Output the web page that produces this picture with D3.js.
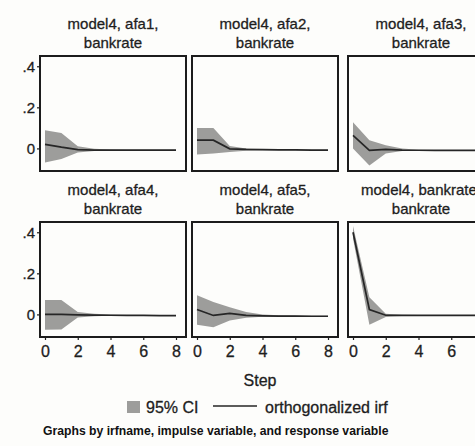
<!DOCTYPE html>
<html>
<head>
<meta charset="utf-8">
<script src="https://cdn.jsdelivr.net/npm/d3@7"></script>
<style>
  html, body { margin: 0; padding: 0; background: #fdfdfb; }
  svg { display: block; font-family: "Liberation Sans", Arial, sans-serif; }
  svg text { stroke: #1e1e1e; stroke-width: 0.3px; }
</style>
</head>
<body>
<svg id="chart" width="475" height="446"></svg>
<script>
// Impulse-response steps
const steps = [0, 1, 2, 3, 4, 5, 6, 7, 8];

// Panel titles (irfname, impulse, response)
const panelTitles = [
  ["model4, afa1,", "bankrate"],
  ["model4, afa2,", "bankrate"],
  ["model4, afa3,", "bankrate"],
  ["model4, afa4,", "bankrate"],
  ["model4, afa5,", "bankrate"],
  ["model4, bankrate,", "bankrate"]
];

// Orthogonalized IRF and 95% CI bounds, per impulse variable
const irfAfa1 = [0.020, 0.006, -0.006, -0.008, -0.008, -0.008, -0.008, -0.008, -0.008];
const hiAfa1  = [0.088, 0.075, 0.010, -0.002, -0.005, -0.006, -0.006, -0.007, -0.007];
const loAfa1  = [-0.068, -0.052, -0.020, -0.013, -0.011, -0.010, -0.010, -0.009, -0.009];

const irfAfa2 = [0.040, 0.040, -0.002, -0.005, -0.006, -0.007, -0.007, -0.008, -0.008];
const hiAfa2  = [0.100, 0.100, 0.012, 0.000, -0.003, -0.004, -0.005, -0.006, -0.006];
const loAfa2  = [-0.030, -0.025, -0.018, -0.011, -0.009, -0.009, -0.009, -0.009, -0.009];

const irfAfa3 = [0.063, -0.010, -0.005, -0.008, -0.009, -0.010, -0.010, -0.010, -0.010];
const hiAfa3  = [0.127, 0.040, 0.015, 0.000, -0.007, -0.008, -0.008, -0.009, -0.009];
const loAfa3  = [0.000, -0.083, -0.025, -0.012, -0.011, -0.011, -0.011, -0.011, -0.011];

const irfAfa4 = [0.000, 0.000, -0.002, -0.003, -0.004, -0.005, -0.005, -0.006, -0.006];
const hiAfa4  = [0.070, 0.070, 0.012, 0.003, -0.001, -0.003, -0.003, -0.004, -0.004];
const loAfa4  = [-0.075, -0.073, -0.015, -0.009, -0.007, -0.007, -0.007, -0.008, -0.008];

const irfAfa5 = [0.024, -0.005, 0.005, -0.005, -0.007, -0.008, -0.008, -0.009, -0.009];
const hiAfa5  = [0.093, 0.060, 0.035, 0.012, 0.000, -0.004, -0.005, -0.006, -0.006];
const loAfa5  = [-0.050, -0.063, -0.030, -0.016, -0.011, -0.011, -0.011, -0.011, -0.011];

const irfBank = [0.400, 0.024, -0.004, -0.005, -0.005, -0.005, -0.005, -0.005, -0.005];
const hiBank  = [0.430, 0.083, 0.003, -0.002, -0.003, -0.003, -0.003, -0.003, -0.003];
const loBank  = [0.370, -0.050, -0.012, -0.008, -0.007, -0.007, -0.007, -0.007, -0.007];

// Axis ticks
const yTickValues = [0, 0.2, 0.4];
const yTickLabels = ["0", ".2", ".4"];
const xTickValues = [0, 2, 4, 6, 8];
const xTickLabels = ["0", "2", "4", "6", "8"];

const legendLabels = ["95% CI", "orthogonalized irf"];
const xAxisTitle = "Step";
const noteText = "Graphs by irfname, impulse variable, and response variable";

const series = [
  { irf: irfAfa1, lo: loAfa1, hi: hiAfa1 },
  { irf: irfAfa2, lo: loAfa2, hi: hiAfa2 },
  { irf: irfAfa3, lo: loAfa3, hi: hiAfa3 },
  { irf: irfAfa4, lo: loAfa4, hi: hiAfa4 },
  { irf: irfAfa5, lo: loAfa5, hi: hiAfa5 },
  { irf: irfBank, lo: loBank, hi: hiBank }
];

// Layout
const colLeft = [40, 192, 348];
const rowTop = [56, 222];
const panelW = 146, panelH = 115;
const bandColor = "#9d9d9b";
const lineColor = "#262626";
const frameColor = "#1c1c1c";
const textColor = "#1e1e1e";

const svg = d3.select("#chart");

const x = d3.scaleLinear().domain([0, 8]).range([5, panelW - 10]);
const y = d3.scaleLinear().domain([-0.11, 0.45]).range([panelH, 0]);

const area = d3.area()
  .x(d => x(d.step))
  .y0(d => y(d.lo))
  .y1(d => y(d.hi));
const line = d3.line()
  .x(d => x(d.step))
  .y(d => y(d.irf));

series.forEach((s, i) => {
  const col = i % 3, row = Math.floor(i / 3);
  const g = svg.append("g")
    .attr("transform", `translate(${colLeft[col]},${rowTop[row]})`);
  const pts = steps.map((st, k) => ({ step: st, irf: s.irf[k], lo: s.lo[k], hi: s.hi[k] }));

  // title
  const cx = panelW / 2;
  g.append("text").attr("x", cx).attr("y", -27)
    .attr("text-anchor", "middle").attr("font-size", 15).attr("fill", textColor)
    .text(panelTitles[i][0]);
  g.append("text").attr("x", cx).attr("y", -8)
    .attr("text-anchor", "middle").attr("font-size", 15).attr("fill", textColor)
    .text(panelTitles[i][1]);

  // confidence band and irf line
  g.append("path").datum(pts).attr("d", area).attr("fill", bandColor);
  g.append("path").datum(pts).attr("d", line)
    .attr("fill", "none").attr("stroke", lineColor).attr("stroke-width", 1.7);

  // frame
  g.append("rect").attr("x", 0).attr("y", 0).attr("width", panelW).attr("height", panelH)
    .attr("fill", "none").attr("stroke", frameColor).attr("stroke-width", 2);

  // y axis on the first column
  if (col === 0) {
    const ya = d3.axisLeft(y).tickValues(yTickValues).tickSize(3)
      .tickFormat((d, k) => yTickLabels[k]);
    const ag = g.append("g").call(ya);
    ag.select(".domain").remove();
    ag.selectAll("line").attr("stroke", frameColor).attr("stroke-width", 1.2);
    ag.selectAll("text").attr("font-size", 15).attr("fill", textColor)
      .attr("font-family", "Liberation Sans, Arial, sans-serif").attr("dx", "1");
  }
  // x axis on the bottom row
  if (row === 1) {
    const xa = d3.axisBottom(x).tickValues(xTickValues).tickSize(3)
      .tickFormat((d, k) => xTickLabels[k]);
    const ag = g.append("g").attr("transform", `translate(0,${panelH})`).call(xa);
    ag.select(".domain").remove();
    ag.selectAll("line").attr("stroke", frameColor).attr("stroke-width", 1.2);
    ag.selectAll("text").attr("font-size", 16).attr("fill", textColor)
      .attr("font-family", "Liberation Sans, Arial, sans-serif").attr("dy", "0.85em");
  }
});

// x axis title
svg.append("text").attr("x", 260).attr("y", 386)
  .attr("text-anchor", "middle").attr("font-size", 16).attr("fill", textColor)
  .text(xAxisTitle);

// legend
const lg = svg.append("g");
lg.append("rect").attr("x", 127).attr("y", 401).attr("width", 13).attr("height", 12)
  .attr("fill", bandColor);
lg.append("text").attr("x", 146).attr("y", 413).attr("font-size", 16).attr("fill", textColor)
  .text(legendLabels[0]);
lg.append("line").attr("x1", 213).attr("x2", 257).attr("y1", 406).attr("y2", 406)
  .attr("stroke", lineColor).attr("stroke-width", 1.6);
lg.append("text").attr("x", 265).attr("y", 413).attr("font-size", 16).attr("fill", textColor)
  .text(legendLabels[1]);

// note
svg.append("text").attr("x", 43).attr("y", 435).attr("font-size", 12.2)
  .attr("font-weight", "bold").attr("fill", "#111").style("stroke-width", "0px")
  .text(noteText);
</script>
</body>
</html>
